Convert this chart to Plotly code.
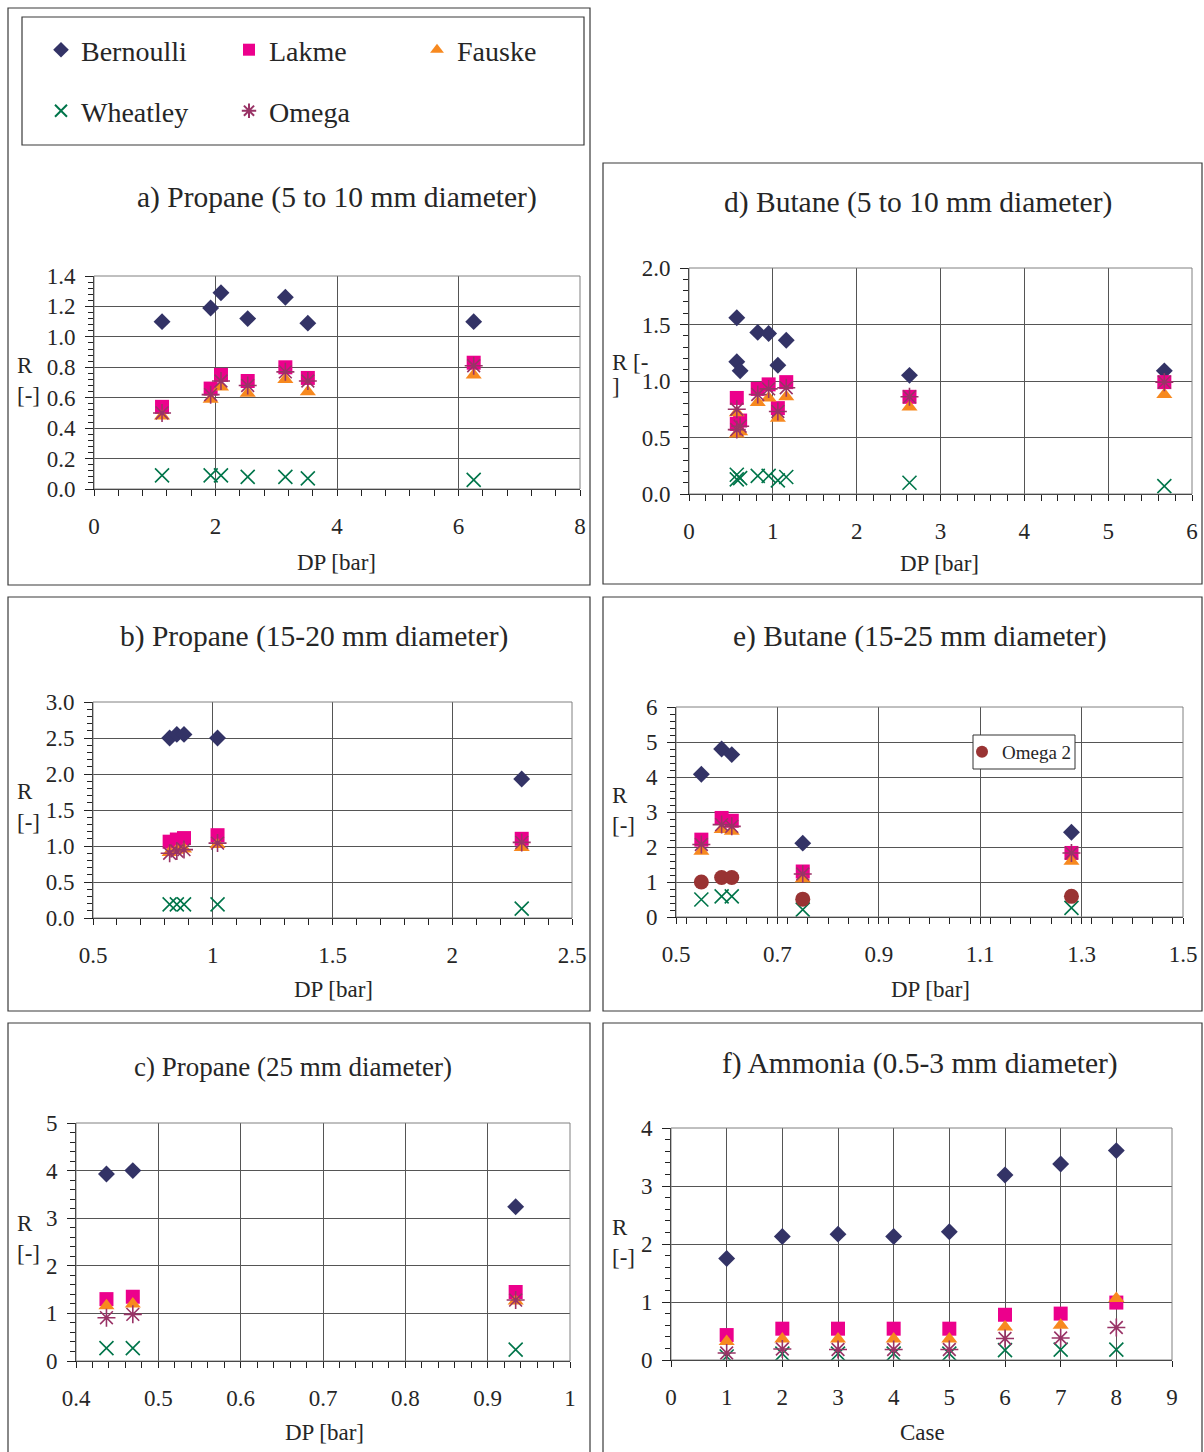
import plotly.graph_objects as go

# ---------------- data ----------------
series_names = ["Bernoulli", "Lakme", "Fauske", "Wheatley", "Omega"]

# a) Propane 5-10 mm
a_dp = [1.12, 1.92, 2.09, 2.53, 3.15, 3.52, 6.25]
a_bern = [1.10, 1.19, 1.29, 1.12, 1.26, 1.09, 1.10]
a_lakme = [0.54, 0.66, 0.75, 0.71, 0.80, 0.73, 0.83]
a_fauske = [0.48, 0.59, 0.67, 0.63, 0.72, 0.64, 0.75]
a_wheat = [0.09, 0.09, 0.09, 0.08, 0.08, 0.07, 0.06]
a_omega = [0.50, 0.62, 0.71, 0.68, 0.77, 0.71, 0.81]

# d) Butane 5-10 mm
d_dp = [0.57, 0.57, 0.61, 0.82, 0.95, 1.06, 1.16, 2.63, 5.67]
d_bern = [1.56, 1.17, 1.09, 1.43, 1.42, 1.14, 1.36, 1.05, 1.09]
d_lakme = [0.85, 0.62, 0.65, 0.93, 0.97, 0.76, 0.99, 0.86, 0.99]
d_fauske = [0.72, 0.53, 0.55, 0.81, 0.85, 0.67, 0.86, 0.77, 0.88]
d_wheat = [0.17, 0.13, 0.14, 0.16, 0.16, 0.12, 0.15, 0.10, 0.07]
d_omega = [0.75, 0.57, 0.60, 0.88, 0.93, 0.73, 0.94, 0.86, 0.99]

# b) Propane 15-20 mm
b_dp = [0.82, 0.85, 0.88, 1.02, 2.29]
b_bern = [2.50, 2.55, 2.55, 2.50, 1.93]
b_lakme = [1.06, 1.09, 1.11, 1.15, 1.10]
b_fauske = [0.91, 0.94, 0.96, 1.02, 0.98]
b_wheat = [0.19, 0.19, 0.19, 0.19, 0.13]
b_omega = [0.90, 0.93, 0.95, 1.04, 1.05]

# e) Butane 15-25 mm
e_dp = [0.55, 0.59, 0.61, 0.75, 1.28]
e_bern = [4.08, 4.80, 4.64, 2.11, 2.42]
e_lakme = [2.21, 2.83, 2.75, 1.30, 1.83]
e_fauske = [1.88, 2.50, 2.45, 1.09, 1.59]
e_wheat = [0.50, 0.59, 0.59, 0.21, 0.26]
e_omega = [2.07, 2.64, 2.59, 1.23, 1.83]
e_omega2 = [1.00, 1.13, 1.13, 0.51, 0.59]

# c) Propane 25 mm
c_dp = [0.437, 0.469, 0.934]
c_bern = [3.93, 4.00, 3.24]
c_lakme = [1.30, 1.35, 1.45]
c_fauske = [1.16, 1.20, 1.26]
c_wheat = [0.27, 0.27, 0.24]
c_omega = [0.91, 0.98, 1.28]

# f) Ammonia 0.5-3 mm
f_case = [1, 2, 3, 4, 5, 6, 7, 8]
f_bern = [1.75, 2.13, 2.17, 2.13, 2.21, 3.19, 3.38, 3.61]
f_lakme = [0.43, 0.54, 0.54, 0.54, 0.54, 0.78, 0.80, 0.99]
f_fauske = [0.32, 0.36, 0.36, 0.36, 0.36, 0.57, 0.60, 1.06]
f_wheat = [0.06, 0.11, 0.11, 0.11, 0.11, 0.17, 0.18, 0.18]
f_omega = [0.12, 0.19, 0.18, 0.18, 0.18, 0.37, 0.38, 0.56]

titles = ["a) Propane (5 to 10 mm diameter)", "d) Butane (5 to 10 mm diameter)",
          "b) Propane (15-20 mm diameter)", "e) Butane (15-25 mm diameter)",
          "c) Propane (25 mm diameter)", "f) Ammonia (0.5-3 mm diameter)"]

# ---------------- styling ----------------
W, H = 1204, 1452
FONT = "Liberation Serif"
TXT = "#262626"
BERN = "#333366"
LAKME = "#EC008C"
FAUSKE = "#F7891F"
WHEAT = "#00754A"
OMEGA = "#993366"
OMEGA2 = "#993333"

styles = {
    "Bernoulli": dict(symbol="diamond", size=13, color=BERN),
    "Lakme": dict(symbol="square", size=14, color=LAKME),
    "Fauske": dict(symbol="triangle-up", size=14, color=FAUSKE),
    "Wheatley": dict(symbol="x-thin-open", size=14, color=WHEAT, line=dict(color=WHEAT, width=1.6)),
    "Omega": dict(symbol="asterisk-open", size=15, color=OMEGA, line=dict(color=OMEGA, width=1.6)),
}
legend_of = {"Bernoulli": "legend", "Lakme": "legend", "Fauske": "legend",
             "Wheatley": "legend2", "Omega": "legend2"}


def px(x):
    return x / W


def py(y):
    return 1 - y / H


panels = [
    dict(x=a_dp, ser=[a_bern, a_lakme, a_fauske, a_wheat, a_omega], area=(94, 580, 276, 489),
         xr=[0, 8], xd=2, xm=0.4, yr=[0, 1.4], yd=0.2, ym=0.04, yf=".1f",
         title=(337, 197, 29.5), xt=(337, 562, "DP [bar]"), yl=(15, 366, 395, "R", "[-]")),
    dict(x=d_dp, ser=[d_bern, d_lakme, d_fauske, d_wheat, d_omega], area=(689, 1192, 268, 494),
         xr=[0, 6], xd=1, xm=0.2, yr=[0, 2], yd=0.5, ym=0.1, yf=".1f",
         title=(918, 202, 29.5), xt=(939, 563, "DP [bar]"), yl=(610, 362, 387, "R [-", "]")),
    dict(x=b_dp, ser=[b_bern, b_lakme, b_fauske, b_wheat, b_omega], area=(93, 572, 702, 918),
         xr=[0.5, 2.5], xd=0.5, xm=0.1, yr=[0, 3], yd=0.5, ym=0.1, yf=".1f",
         title=(314, 636, 29.5), xt=(333, 989, "DP [bar]"), yl=(15, 792, 822, "R", "[-]")),
    dict(x=e_dp, ser=[e_bern, e_lakme, e_fauske, e_wheat, e_omega], area=(676, 1183, 707, 917),
         xr=[0.5, 1.5], xd=0.2, xm=0.04, yr=[0, 6], yd=1, ym=0.2, yf="",
         title=(920, 636, 29.5), xt=(930, 989, "DP [bar]"), yl=(610, 795, 825, "R", "[-]")),
    dict(x=c_dp, ser=[c_bern, c_lakme, c_fauske, c_wheat, c_omega], area=(76, 570, 1123, 1361),
         xr=[0.4, 1.0], xd=0.1, xm=0.02, yr=[0, 5], yd=1, ym=0.2, yf="",
         title=(293, 1067, 27), xt=(324, 1432, "DP [bar]"), yl=(15, 1223, 1253, "R", "[-]")),
    dict(x=f_case, ser=[f_bern, f_lakme, f_fauske, f_wheat, f_omega], area=(671, 1172, 1128, 1360),
         xr=[0, 9], xd=1, xm=None, yr=[0, 4], yd=1, ym=0.2, yf="",
         title=(920, 1063, 29.5), xt=(922, 1432, "Case"), yl=(610, 1227, 1257, "R", "[-]")),
]

fig = go.Figure()
annotations = []
shapes = []

# panel frames and legend frame
boxes = [(8, 8, 590, 585), (22, 17, 584, 145), (603, 163, 1202, 584),
         (8, 597, 590, 1011), (603, 597, 1202, 1011),
         (8, 1023, 590, 1470), (603, 1023, 1202, 1470)]
for (x0, y0, x1, y1) in boxes:
    shapes.append(dict(type="rect", xref="paper", yref="paper", x0=px(x0), x1=px(x1),
                       y0=py(y1), y1=py(y0), line=dict(color="#3a3a3a", width=1.2),
                       fillcolor="rgba(0,0,0,0)", layer="below"))

for i, p in enumerate(panels):
    n = i + 1
    xa = "x" if n == 1 else f"x{n}"
    ya = "y" if n == 1 else f"y{n}"
    for name, vals in zip(series_names, p["ser"]):
        fig.add_trace(go.Scatter(
            x=p["x"], y=vals, mode="markers", name=name, xaxis=xa, yaxis=ya,
            marker=styles[name], showlegend=(n == 1), legend=legend_of[name],
            hoverinfo="x+y"))
    if n == 4:
        fig.add_trace(go.Scatter(
            x=p["x"], y=e_omega2, mode="markers", name="Omega 2", xaxis=xa, yaxis=ya,
            marker=dict(symbol="circle", size=15, color=OMEGA2), showlegend=True,
            legend="legend3"))

    x0, x1, y0, y1 = p["area"]
    xkey = "xaxis" if n == 1 else f"xaxis{n}"
    ykey = "yaxis" if n == 1 else f"yaxis{n}"
    xminor = dict(dtick=p["xm"], ticks="outside", ticklen=6, tickcolor="#222",
                  showgrid=False) if p["xm"] else dict(ticks="")
    fig.update_layout(**{
        xkey: dict(domain=[px(x0), px(x1)], anchor=ya, range=p["xr"], tick0=p["xr"][0],
                   dtick=p["xd"], showgrid=True, gridcolor="#555555", gridwidth=1,
                   zeroline=False, showline=True, linecolor="#111", linewidth=1,
                   ticks="outside", ticklen=6, tickcolor="#222",
                   ticklabelstandoff=10, automargin=False,
                   tickfont=dict(family=FONT, size=23, color=TXT), minor=xminor,
                   fixedrange=True),
        ykey: dict(domain=[py(y1), py(y0)], anchor=xa, range=p["yr"], tick0=0,
                   dtick=p["yd"], tickformat=p["yf"], showgrid=True, gridcolor="#555555",
                   gridwidth=1, zeroline=False, showline=True, linecolor="#111",
                   linewidth=1, ticks="outside", ticklen=8, tickcolor="#222",
                   ticklabelstandoff=5, automargin=False,
                   tickfont=dict(family=FONT, size=23, color=TXT),
                   minor=dict(dtick=p["ym"], ticks="outside", ticklen=5,
                              tickcolor="#222", showgrid=False),
                   fixedrange=True),
    })
    shapes.append(dict(type="rect", xref=f"{xa} domain", yref=f"{ya} domain",
                       x0=0, x1=1, y0=0, y1=1, line=dict(color="#808080", width=1),
                       fillcolor="rgba(0,0,0,0)", layer="above"))
    # title
    tx, ty, tsize = p["title"]
    annotations.append(dict(text=titles[i], x=px(tx), y=py(ty), xref="paper", yref="paper",
                            xanchor="center", yanchor="middle", showarrow=False,
                            font=dict(family=FONT, size=tsize, color=TXT)))
    # x title
    ax_, ay_, at_ = p["xt"]
    annotations.append(dict(text=at_, x=px(ax_), y=py(ay_), xref="paper", yref="paper",
                            xanchor="center", yanchor="middle", showarrow=False,
                            font=dict(family=FONT, size=23, color=TXT)))
    # y label (two lines)
    lx, l1, l2, t1, t2 = p["yl"]
    for yy, tt in ((l1, t1), (l2, t2)):
        annotations.append(dict(text=tt, x=px(lx), y=py(yy), xref="paper", yref="paper",
                                xanchor="left", yanchor="middle", showarrow=False,
                                font=dict(family=FONT, size=23, color=TXT)))

# white box behind the "Omega 2" legend in panel e
shapes.append(dict(type="rect", xref="paper", yref="paper", x0=px(973), x1=px(1075),
                   y0=py(769), y1=py(735), line=dict(color="#333", width=1),
                   fillcolor="white", layer="above"))

leg_common = dict(orientation="h", xanchor="left", yanchor="middle",
                  font=dict(family=FONT, size=28, color=TXT), entrywidth=143,
                  entrywidthmode="pixels", itemsizing="constant",
                  bgcolor="rgba(0,0,0,0)", borderwidth=0)

fig.update_layout(
    width=W, height=H, margin=dict(l=0, r=0, t=0, b=0, pad=0, autoexpand=False),
    paper_bgcolor="white", plot_bgcolor="white",
    showlegend=True,
    legend=dict(x=px(41), y=py(50), **leg_common),
    legend2=dict(x=px(41), y=py(111), **leg_common),
    legend3=dict(x=px(962), y=py(752), xanchor="left", yanchor="middle", orientation="v",
                 font=dict(family=FONT, size=19, color=TXT), itemsizing="constant",
                 bgcolor="rgba(0,0,0,0)", borderwidth=0),
    annotations=annotations, shapes=shapes,
)

fig.write_html("out.html", config={"displayModeBar": False, "staticPlot": False},
               post_script="document.body.style.margin='0px';")
